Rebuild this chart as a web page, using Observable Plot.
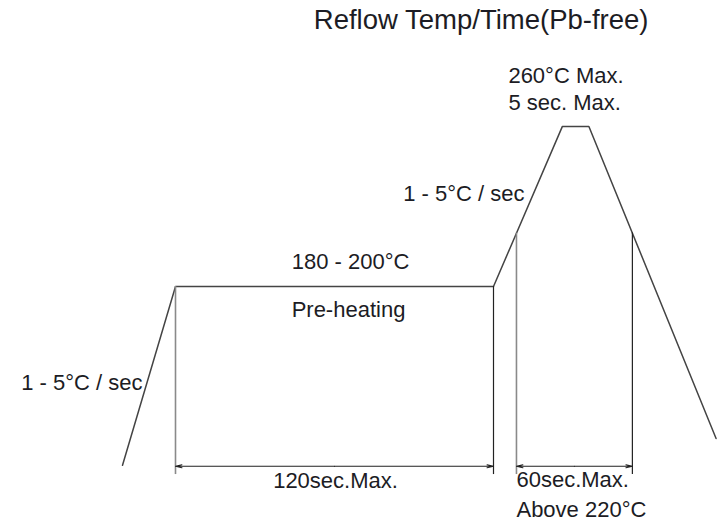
<!DOCTYPE html>
<html><head><meta charset="utf-8">
<script src="https://cdn.jsdelivr.net/npm/d3@7"></script>
<script src="https://cdn.jsdelivr.net/npm/@observablehq/plot@0.6"></script>
<style>body{margin:0;background:#fff} svg{display:block}</style>
</head><body><div id="chart"></div>
<script>
// ---- data (schematic reflow profile) ----
const title = "Reflow Temp/Time(Pb-free)";
const profileTime = [0, 20, 140, 166, 176, 224];   // s (schematic)
const profileTemp = [133, 200, 200, 260, 260, 143]; // °C
const liquidusTemp = 220;
const dimFootTemp = 129.5;  // foot of dimension lines
const dimArrowTemp = 132.6; // level of dimension arrows
const rampLabel = "1 - 5°C / sec";
const preheatTempLabel = "180 - 200°C";
const preheatLabel = "Pre-heating";
const preheatTimeLabel = "120sec.Max.";
const peakLabel = ["260°C Max.", "5 sec. Max."];
const liquidusLabel = ["60sec.Max.", "Above 220°C"];

const profile = profileTime.map((t, i) => ({t, T: profileTemp[i]}));

// times where the profile crosses the liquidus temperature
function crossings(level) {
  const out = [];
  for (let i = 0; i < profile.length - 1; i++) {
    const a = profile[i], b = profile[i + 1];
    if ((a.T - level) * (b.T - level) < 0) {
      out.push(a.t + (b.t - a.t) * (level - a.T) / (b.T - a.T));
    }
  }
  return out;
}
const [liqStart, liqEnd] = crossings(liquidusTemp);
const preStart = profileTime[1], preEnd = profileTime[2];
const preMid = (preStart + preEnd) / 2;

const dims = [
  {t: preStart, top: profileTemp[1], stroke: "#8a8a8a", w: 1.6},
  {t: preEnd, top: profileTemp[2], stroke: "#222", w: 1.2},
  {t: liqStart, top: liquidusTemp, stroke: "#8a8a8a", w: 1.6},
  {t: liqEnd, top: liquidusTemp, stroke: "#222", w: 1.2}
];
const spans = [[preStart, preEnd], [liqStart, liqEnd]];
const arrows = spans.flatMap(([a, b]) => [
  {x1: (a + b) / 2, x2: a},
  {x1: (a + b) / 2, x2: b}
]);

const font = "Liberation Sans, Arial, Helvetica, sans-serif";
const txt = {fontSize: 22, fill: "#1c1c24", lineAnchor: "bottom", letterSpacing: "0.4px"};

const chart = Plot.plot({
  width: 717,
  height: 521,
  margin: 0,
  style: {fontFamily: font, background: "#fff"},
  x: {domain: [-46.04, 224.53], axis: null},
  y: {domain: [111.9, 307.2], axis: null},
  marks: [
    Plot.line(profile, {x: "t", y: "T", stroke: "#444", strokeWidth: 1.5}),
    Plot.ruleX(dims, {x: "t", y1: "top", y2: dimFootTemp, stroke: d => d.stroke, strokeWidth: d => d.w}),
    Plot.arrow(arrows, {x1: "x1", x2: "x2", y1: dimArrowTemp, y2: dimArrowTemp,
      stroke: "#222", strokeWidth: 1.1, headLength: 9, headAngle: 26}),
    Plot.text([title], {frameAnchor: "top-right", textAnchor: "end", lineAnchor: "bottom",
      dx: -69, dy: 28, fontSize: 27.5, fill: "#1c1c24", letterSpacing: "0.2px"}),
    Plot.text([preheatTempLabel], {x: preMid, y: profileTemp[1], dx: 16, dy: -17, ...txt}),
    Plot.text([preheatLabel], {x: preMid, y: profileTemp[1], dx: 14, dy: 31, ...txt}),
    Plot.text([preheatTimeLabel], {x: preMid, y: dimArrowTemp, dx: 1, dy: 22, ...txt}),
    Plot.text([rampLabel], {x: profileTime[0], y: profileTemp[0], dx: 20, dy: -75, textAnchor: "end", ...txt}),
    Plot.text([rampLabel], {x: liqStart, y: liquidusTemp, dx: 8, dy: -32, textAnchor: "end", ...txt}),
    Plot.text([peakLabel.join("\n")], {x: profileTime[3], y: profileTemp[3], dx: -54, dy: -16,
      textAnchor: "start", lineHeight: 27 / 22, ...txt}),
    Plot.text([liquidusLabel.join("\n")], {x: liqStart, y: dimArrowTemp, dx: 0, dy: 51,
      textAnchor: "start", lineHeight: 30 / 22, ...txt})
  ]
});
document.getElementById("chart").append(chart);
</script>
</body></html>
